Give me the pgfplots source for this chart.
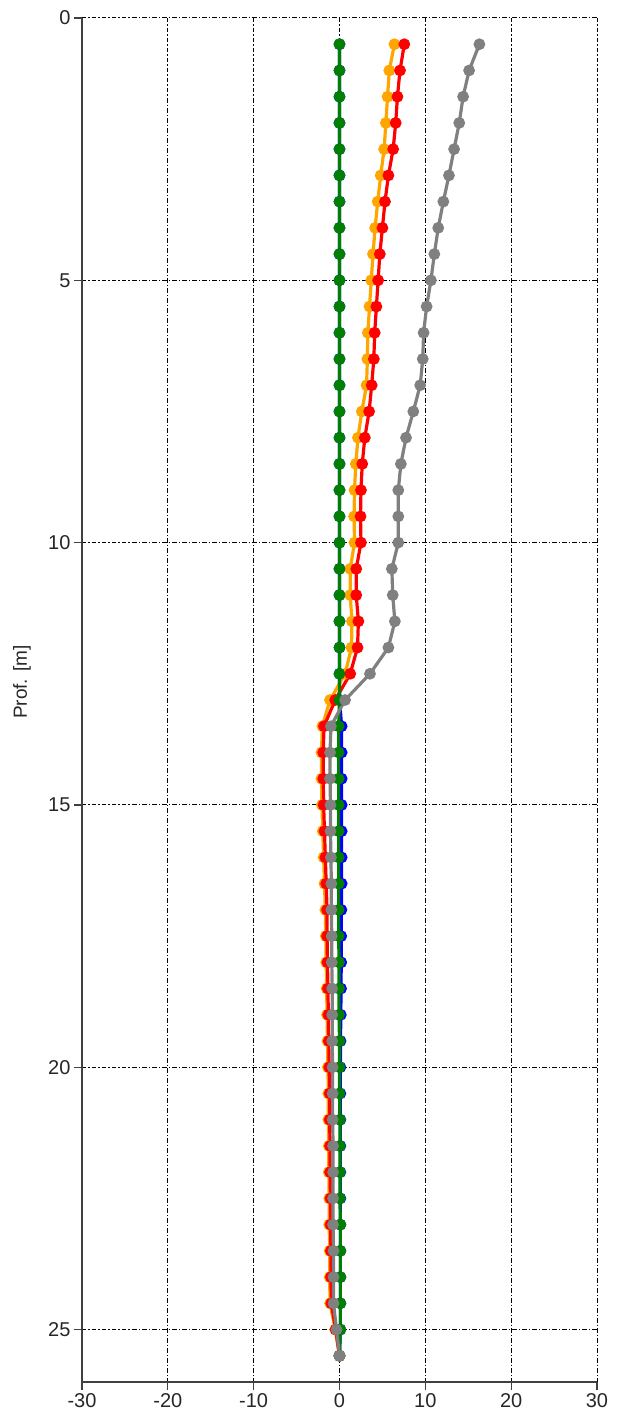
\documentclass[border=0pt]{standalone}
\usepackage{fontspec}
\setmainfont{Liberation Sans}
\usepackage{pgfplots}
\pgfplotsset{compat=1.18}
\usepackage{pgfplotstable}

\definecolor{cOrange}{RGB}{255,165,0}
\definecolor{cRed}{RGB}{255,0,0}
\definecolor{cGray}{RGB}{128,128,128}
\definecolor{cGreen}{RGB}{0,128,0}
\definecolor{cBlue}{RGB}{0,0,255}

\pgfplotstableread{
d o r gy gn b
0.5 6.4 7.55 16.3 0 0
1.0 5.8 7.05 15.1 0 0
1.5 5.6 6.75 14.4 0 0
2.0 5.4 6.55 13.95 0 0
2.5 5.2 6.25 13.35 0 0
3.0 4.8 5.7 12.75 0 0
3.5 4.45 5.3 12.1 0 0
4.0 4.15 5.0 11.5 0 0
4.5 3.9 4.7 11.05 0 0
5.0 3.7 4.5 10.65 0 0
5.5 3.5 4.3 10.15 0 0
6.0 3.3 4.1 9.8 0 0
6.5 3.25 4.0 9.7 0 0
7.0 3.15 3.75 9.4 0 0
7.5 2.6 3.45 8.6 0 0
8.0 2.15 2.95 7.75 0 0
8.5 1.9 2.65 7.15 0 0
9.0 1.75 2.5 6.85 0 0
9.5 1.7 2.45 6.85 0 0
10.0 1.75 2.5 6.85 0 0
10.5 1.25 1.95 6.1 0 0
11.0 1.25 1.95 6.2 0 0
11.5 1.45 2.2 6.45 0 0
12.0 1.4 2.1 5.7 0 0
12.5 0.65 1.25 3.55 0 0
13.0 -1.1 -0.5 0.65 0 0
13.5 -2.0 -1.8 -1.0 -0.1 0.25
14.0 -2.1 -1.9 -1.1 -0.1 0.25
14.5 -2.1 -1.9 -1.1 -0.1 0.25
15.0 -2.05 -1.85 -1.05 -0.1 0.25
15.5 -1.95 -1.75 -1.05 -0.1 0.25
16.0 -1.85 -1.65 -1.0 -0.1 0.25
16.5 -1.75 -1.55 -0.95 -0.1 0.25
17.0 -1.65 -1.45 -0.95 -0.1 0.22
17.5 -1.6 -1.45 -0.9 -0.1 0.2
18.0 -1.55 -1.4 -0.9 -0.05 0.2
18.5 -1.5 -1.35 -0.85 -0.05 0.18
19.0 -1.45 -1.3 -0.85 -0.05 0.15
19.5 -1.4 -1.25 -0.85 0 0.12
20.0 -1.35 -1.2 -0.8 0 0.1
20.5 -1.3 -1.15 -0.8 0 0.1
21.0 -1.3 -1.15 -0.8 0.05 0.1
21.5 -1.25 -1.1 -0.75 0.05 0.1
22.0 -1.25 -1.1 -0.75 0.05 0.1
22.5 -1.2 -1.05 -0.75 0.05 0.1
23.0 -1.2 -1.05 -0.75 0.1 0.1
23.5 -1.15 -1.0 -0.7 0.1 0.1
24.0 -1.15 -1.0 -0.7 0.1 0.1
24.5 -1.1 -0.95 -0.7 0.1 0.1
25.0 -0.5 -0.45 -0.35 0.1 0.1
25.5 0 0 0 0 0
}\data

\begin{document}
\begin{tikzpicture}
\begin{axis}[
  name=ax,
  scale only axis,
  width=515pt, height=1364pt,
  xmin=-30, xmax=30, ymin=0, ymax=26,
  y dir=reverse,
  xtick={-30,-20,-10,0,10,20,30},
  ytick={0,5,10,15,20,25},
  grid=major,
  major grid style={black, line width=1pt, dash pattern=on 4.5pt off 2pt on 1.5pt off 2pt},
  axis line style={draw=none},
  tick align=outside,
  major tick length=8pt,
  tick style={black!75, line width=1.2pt},
  ytick pos=left,
  xtick pos=left,
  ticklabel style={font=\fontsize{20}{24}\selectfont, text=black!85},
  /pgf/number format/assume math mode=true,
  clip=false,
]
\addplot[cBlue, line width=3.2pt, mark=*, mark size=4.2pt] table[x=b, y=d] {\data};
\addplot[cOrange, line width=3.2pt, mark=*, mark size=4.2pt] table[x=o, y=d] {\data};
\addplot[cRed, line width=3.2pt, mark=*, mark size=4.2pt] table[x=r, y=d] {\data};
\addplot[cGreen, line width=3.2pt, mark=*, mark size=4.2pt] table[x=gn, y=d] {\data};
\addplot[cGray, line width=3.2pt, mark=*, mark size=4.2pt] table[x=gy, y=d] {\data};
\draw[black!75, line width=1.5pt] (axis cs:-30,0) -- (axis cs:-30,26) -- (axis cs:30,26);
\node[rotate=90, font=\fontsize{19}{23}\selectfont, text=black!85] at (axis cs:-37,12.66) {Prof. [m]};
\end{axis}
\pgfresetboundingbox
\path[use as bounding box] ([xshift=-82pt,yshift=-39pt]ax.south west) rectangle ([xshift=22pt,yshift=18pt]ax.north east);
\end{tikzpicture}
\end{document}
